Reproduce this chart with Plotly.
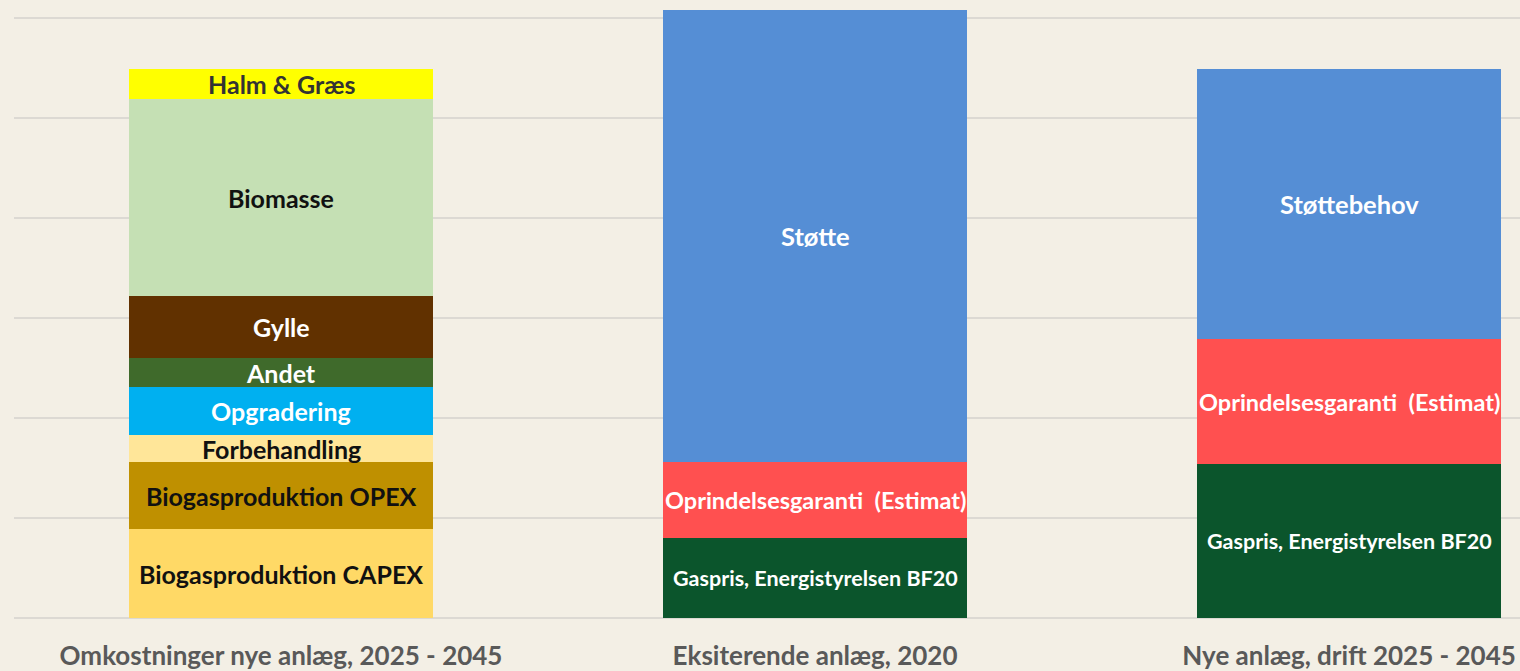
import plotly.graph_objects as go

categories = ["Omkostninger nye anlæg, 2025 - 2045", "Eksiterende anlæg, 2020", "Nye anlæg, drift 2025 - 2045"]

# Bar 1: cost components (bottom -> top)
cost_labels = ["Biogasproduktion CAPEX", "Biogasproduktion OPEX", "Forbehandling", "Opgradering",
               "Andet", "Gylle", "Biomasse", "Halm & Græs"]
cost_values = [0.89, 0.67, 0.27, 0.48, 0.29, 0.62, 1.97, 0.30]

# Bars 2 and 3: revenue components (bottom -> top)
gas_label = "Gaspris, Energistyrelsen BF20"
gas_values = [0.80, 1.54]
og_label = "Oprindelsesgaranti  (Estimat)"
og_values = [0.76, 1.25]
support_labels = ["Støtte", "Støttebehov"]
support_values = [4.52, 2.70]

# styles
cost_colors = ["#FFD966", "#BF9000", "#FFE699", "#00B0F0", "#3F6A2B", "#613100", "#C5E0B4", "#FFFF00"]
cost_text_colors = ["#111111", "#111111", "#111111", "#FFFFFF", "#FFFFFF", "#FFFFFF", "#111111", "#333333"]
gas_color = "#0B552C"
og_color = "#FF5050"
support_color = "#558ED5"
BG = "#F3EFE5"
FONT = "Lato"
BAR_W = 0.57

fig = go.Figure()
annotations = []

base = 0.0
for lab, val, col, tcol in zip(cost_labels, cost_values, cost_colors, cost_text_colors):
    fig.add_trace(go.Bar(x=[categories[0]], y=[val], name=lab, marker=dict(color=col, line=dict(width=0)),
                         width=BAR_W, hoverinfo="name+y"))
    annotations.append(dict(x=categories[0], y=base + val / 2, text=lab, showarrow=False,
                            font=dict(family=FONT, size=25, color=tcol, weight="bold"), xref="x", yref="y"))
    base += val

rev_cats = categories[1:]
fig.add_trace(go.Bar(x=rev_cats, y=gas_values, name=gas_label, marker=dict(color=gas_color, line=dict(width=0)),
                     width=BAR_W, hoverinfo="name+y"))
fig.add_trace(go.Bar(x=rev_cats, y=og_values, name=og_label, marker=dict(color=og_color, line=dict(width=0)),
                     width=BAR_W, hoverinfo="name+y"))
fig.add_trace(go.Bar(x=rev_cats, y=support_values, name="Støtte", marker=dict(color=support_color, line=dict(width=0)),
                     width=BAR_W, hoverinfo="name+y"))

for i, c in enumerate(rev_cats):
    b = 0.0
    annotations.append(dict(x=c, y=b + gas_values[i] / 2, text=gas_label, showarrow=False,
                            font=dict(family=FONT, size=21.5, color="#FFFFFF", weight="bold")))
    b += gas_values[i]
    annotations.append(dict(x=c, y=b + og_values[i] / 2, text=og_label, showarrow=False,
                            font=dict(family=FONT, size=23.5, color="#FFFFFF", weight="bold")))
    b += og_values[i]
    annotations.append(dict(x=c, y=b + support_values[i] / 2, text=support_labels[i], showarrow=False,
                            font=dict(family=FONT, size=25.5, color="#FFFFFF", weight="bold")))

fig.update_layout(
    width=1520, height=671,
    barmode="stack",
    showlegend=False,
    paper_bgcolor=BG, plot_bgcolor=BG,
    margin=dict(l=14, r=0, t=0, b=53, autoexpand=False),
    annotations=annotations,
    xaxis=dict(type="category", range=[-0.5, 2.32], showgrid=False, showline=False, ticks="",
               automargin=False, ticklabelstandoff=20,
               tickfont=dict(family=FONT, size=26, color="#595959", weight="bold")),
    yaxis=dict(range=[0, 6.18], dtick=1, showticklabels=False, showgrid=True, gridcolor="#DCD9D3",
               automargin=False,
               gridwidth=2, zeroline=True, zerolinecolor="#DCD9D3", zerolinewidth=2, showline=False),
)

fig.write_html("out.html")
